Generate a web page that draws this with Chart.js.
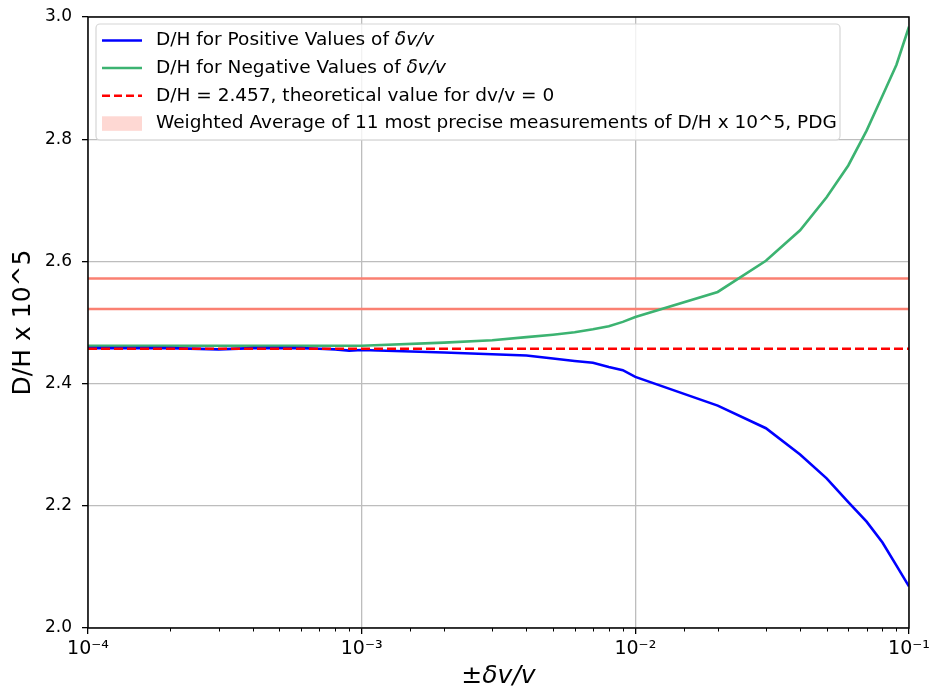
<!DOCTYPE html>
<html>
<head>
<meta charset="utf-8">
<script src="https://cdn.jsdelivr.net/npm/chart.js@4.4.0/dist/chart.umd.min.js"></script>
<style>
body { margin: 0; background: #fff; }
</style>
</head>
<body>
<canvas id="chart" width="930" height="689"></canvas>
<script>
// delta v / v sample points (same for both curves)
const dvOverV = [1e-4, 2e-4, 3e-4, 4e-4, 5e-4, 6e-4, 7e-4, 8e-4, 9e-4,
                 1e-3, 2e-3, 3e-3, 4e-3, 5e-3, 6e-3, 7e-3, 8e-3, 9e-3,
                 1e-2, 2e-2, 3e-2, 4e-2, 5e-2, 6e-2, 7e-2, 8e-2, 9e-2, 1e-1];
const dhPositive = [2.458, 2.458, 2.456, 2.458, 2.458, 2.458, 2.457, 2.456, 2.454,
                    2.455, 2.451, 2.448, 2.446, 2.441, 2.437, 2.434, 2.427, 2.422,
                    2.411, 2.364, 2.327, 2.284, 2.245, 2.206, 2.174, 2.140, 2.102, 2.068];
const dhNegative = [2.462, 2.462, 2.462, 2.462, 2.462, 2.462, 2.462, 2.462, 2.462,
                    2.462, 2.467, 2.471, 2.476, 2.480, 2.484, 2.489, 2.494, 2.501,
                    2.509, 2.550, 2.601, 2.651, 2.705, 2.757, 2.814, 2.871, 2.922, 2.984];
const xRange = [1e-4, 1e-1];
const dhTheory = 2.457;
const pdgLow = 2.522;
const pdgHigh = 2.572;
const yTicks = [2.0, 2.2, 2.4, 2.6, 2.8, 3.0];
const supers = {'-': '⁻', '1': '¹', '2': '²', '3': '³', '4': '⁴'};

const legendItems = [
    {type: 'line', color: '#0000ff', dash: [], text: 'D/H for Positive Values of ', italic: 'δv/v'},
    {type: 'line', color: '#3cb371', dash: [], text: 'D/H for Negative Values of ', italic: 'δv/v'},
    {type: 'line', color: '#ff0000', dash: [8, 4], text: 'D/H = 2.457, theoretical value for dv/v = 0', italic: ''},
    {type: 'patch', color: '#fed8d3', dash: [], text: 'Weighted Average of 11 most precise measurements of D/H x 10^5, PDG', italic: ''}
];

function pts(xs, ys) {
    return xs.map((x, i) => ({x: x, y: ys[i]}));
}
function isDecade(v) {
    const l = Math.log10(v);
    return Math.abs(l - Math.round(l)) < 1e-6;
}

const framePlugin = {
    id: 'frame',
    afterDraw(chart) {
        const ctx = chart.ctx, a = chart.chartArea;
        const xs = chart.scales.x;
        ctx.save();
        // minor ticks on the log axis
        ctx.strokeStyle = '#000';
        ctx.lineWidth = 1;
        for (const t of xs.ticks) {
            if (isDecade(t.value)) continue;
            const px = Math.round(xs.getPixelForValue(t.value)) + 0.5;
            ctx.beginPath();
            ctx.moveTo(px, a.bottom);
            ctx.lineTo(px, a.bottom + 3.5);
            ctx.stroke();
        }
        ctx.lineWidth = 1.5;
        ctx.strokeRect(a.left, a.top, a.right - a.left, a.bottom - a.top);

        // legend box
        const bx = a.left + 8, by = a.top + 7, bw = 744, bh = 116;
        ctx.beginPath();
        ctx.roundRect(bx, by, bw, bh, 4);
        ctx.fillStyle = 'rgba(255,255,255,0.8)';
        ctx.fill();
        ctx.strokeStyle = '#d6d6d6';
        ctx.lineWidth = 1.2;
        ctx.stroke();
        ctx.textBaseline = 'middle';
        legendItems.forEach((it, i) => {
            const cy = by + 16.5 + i * 27.6;
            if (it.type === 'line') {
                ctx.strokeStyle = it.color;
                ctx.lineWidth = 2.5;
                ctx.setLineDash(it.dash);
                ctx.beginPath();
                ctx.moveTo(bx + 6, cy);
                ctx.lineTo(bx + 46, cy);
                ctx.stroke();
                ctx.setLineDash([]);
            } else {
                ctx.fillStyle = it.color;
                ctx.fillRect(bx + 6, cy - 7, 40, 14.5);
            }
            ctx.fillStyle = '#000';
            ctx.font = '18.5px "DejaVu Sans"';
            ctx.fillText(it.text, bx + 60, cy);
            if (it.italic) {
                const w = ctx.measureText(it.text).width;
                ctx.font = 'italic 18.5px "DejaVu Sans"';
                ctx.fillText(it.italic, bx + 60 + w, cy);
            }
        });
        ctx.restore();
    }
};

const ctx = document.getElementById('chart').getContext('2d');
const chart = new Chart(ctx, {
    type: 'line',
    data: {
        datasets: [
            {data: pts(xRange, [dhTheory, dhTheory]), borderColor: '#ff0000', borderWidth: 2.6, borderDash: [9, 4]},
            {data: pts(dvOverV, dhPositive), borderColor: '#0000ff', borderWidth: 2.6},
            {data: pts(dvOverV, dhNegative), borderColor: '#3cb371', borderWidth: 2.6},
            {data: pts(xRange, [pdgHigh, pdgHigh]), borderColor: '#fa8072', borderWidth: 2.6},
            {data: pts(xRange, [pdgLow, pdgLow]), borderColor: '#fa8072', borderWidth: 2.6}
        ]
    },
    options: {
        responsive: false,
        animation: false,
        devicePixelRatio: 1,
        layout: {padding: {top: 17, right: 21, left: 0, bottom: 0}},
        elements: {point: {radius: 0}, line: {tension: 0, fill: false}},
        plugins: {legend: {display: false}, tooltip: {enabled: false}},
        scales: {
            x: {
                type: 'logarithmic',
                min: xRange[0],
                max: xRange[1],
                border: {display: false},
                grid: {
                    color: (c) => c.tick && isDecade(c.tick.value) ? '#bdbdbd' : 'rgba(0,0,0,0)',
                    tickColor: (c) => c.tick && isDecade(c.tick.value) ? '#000' : 'rgba(0,0,0,0)',
                    lineWidth: 1.3,
                    tickLength: 6
                },
                ticks: {
                    autoSkip: false,
                    maxRotation: 0,
                    padding: 4,
                    color: '#000',
                    font: {family: 'DejaVu Sans', size: 19},
                    callback: (v) => {
                        if (!isDecade(v)) return '';
                        const e = String(Math.round(Math.log10(v)));
                        return '10' + e.split('').map(ch => supers[ch]).join('');
                    }
                },
                title: {
                    display: true,
                    text: '±δv/v',
                    color: '#000',
                    padding: {top: 0, bottom: 0},
                    font: {family: 'DejaVu Sans', size: 25, style: 'italic', lineHeight: 1}
                },
                afterFit: (s) => { s.height = 61; s.paddingLeft = 0; s.paddingRight = 0; }
            },
            y: {
                min: 2.0,
                max: 3.0,
                border: {display: false},
                grid: {color: '#bdbdbd', tickColor: '#000', lineWidth: 1.3, tickLength: 6},
                afterBuildTicks: (s) => { s.ticks = yTicks.map(v => ({value: v})); },
                ticks: {
                    padding: 10,
                    color: '#000',
                    font: {family: 'DejaVu Sans', size: 17},
                    callback: (v) => v.toFixed(1)
                },
                title: {
                    display: true,
                    text: 'D/H x 10^5',
                    color: '#000',
                    padding: {top: 10.5, bottom: 0},
                    font: {family: 'DejaVu Sans', size: 25, lineHeight: 1}
                },
                afterFit: (s) => { s.width = 88; s.paddingTop = 0; s.paddingBottom = 0; }
            }
        }
    },
    plugins: [framePlugin]
});
</script>
</body>
</html>
